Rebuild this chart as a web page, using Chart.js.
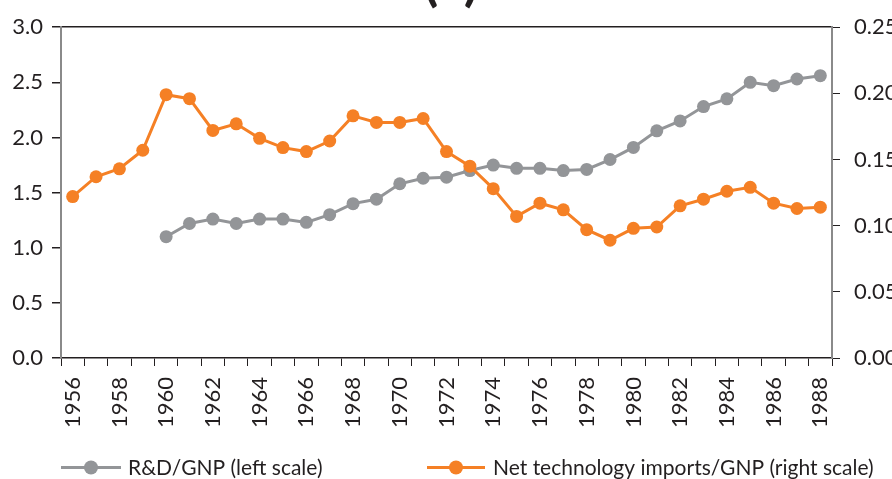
<!DOCTYPE html>
<html>
<head>
<meta charset="utf-8">
<script src="https://cdn.jsdelivr.net/npm/chart.js@4.4.0/dist/chart.umd.min.js"></script>
<style>
  html, body { margin: 0; padding: 0; background: #ffffff; }
  #wrap { position: relative; width: 892px; height: 479px; }
</style>
</head>
<body>
<div id="wrap"><canvas id="c" width="892" height="479"></canvas></div>
<script>
const titleText = "(a)";
const years = ["1956","1957","1958","1959","1960","1961","1962","1963","1964","1965","1966","1967","1968","1969","1970","1971","1972","1973","1974","1975","1976","1977","1978","1979","1980","1981","1982","1983","1984","1985","1986","1987","1988"];
const rdGnp = [null, null, null, null, 1.10, 1.22, 1.26, 1.22, 1.26, 1.26, 1.23, 1.30, 1.40, 1.44, 1.58, 1.63, 1.64, 1.70, 1.75, 1.72, 1.72, 1.70, 1.71, 1.80, 1.91, 2.06, 2.15, 2.28, 2.35, 2.50, 2.47, 2.53, 2.56];
const techImportsGnp = [0.122, 0.137, 0.143, 0.157, 0.199, 0.196, 0.172, 0.177, 0.166, 0.159, 0.156, 0.164, 0.183, 0.178, 0.178, 0.181, 0.156, 0.145, 0.128, 0.107, 0.117, 0.112, 0.097, 0.089, 0.098, 0.099, 0.115, 0.120, 0.126, 0.129, 0.117, 0.113, 0.114];
const leftTicks = [0, 0.5, 1.0, 1.5, 2.0, 2.5, 3.0];
const rightTicks = [0, 0.05, 0.10, 0.15, 0.20, 0.25];
const seriesLabels = ["R&D/GNP (left scale)", "Net technology imports/GNP (right scale)"];

const GRAY = "#939598";
const ORANGE = "#f58025";
const INK = "#231f20";
const FONT = "Lato, 'Open Sans', sans-serif";

const extrasPlugin = {
  id: "extras",
  afterDraw(chart) {
    const ctx = chart.ctx;
    ctx.save();
    // title (mostly above the visible area)
    ctx.fillStyle = INK;
    ctx.font = "bold 54px " + FONT;
    ctx.textAlign = "center";
    ctx.textBaseline = "alphabetic";
    ctx.fillText(titleText, 451, 0);
    // legend
    const items = [
      { x0: 61, x1: 121, tx: 128, color: GRAY, text: chart.data.datasets[1].label },
      { x0: 427, x1: 485, tx: 493, color: ORANGE, text: chart.data.datasets[0].label }
    ];
    const y = 467.5;
    ctx.font = "21px " + FONT;
    ctx.textAlign = "left";
    ctx.textBaseline = "middle";
    items.forEach(it => {
      ctx.strokeStyle = it.color;
      ctx.lineWidth = 3;
      ctx.beginPath();
      ctx.moveTo(it.x0, y);
      ctx.lineTo(it.x1, y);
      ctx.stroke();
      ctx.fillStyle = it.color;
      ctx.beginPath();
      ctx.arc((it.x0 + it.x1) / 2, y, 7, 0, Math.PI * 2);
      ctx.fill();
      ctx.fillStyle = INK;
      ctx.fillText(it.text, it.tx, y + 1);
    });
    ctx.restore();
  }
};

new Chart(document.getElementById("c"), {
  type: "line",
  data: {
    labels: years,
    datasets: [
      {
        label: seriesLabels[1],
        data: techImportsGnp,
        yAxisID: "y1",
        borderColor: ORANGE,
        backgroundColor: ORANGE,
        pointBackgroundColor: ORANGE,
        pointBorderColor: ORANGE,
        borderWidth: 3,
        pointRadius: 6.5,
        pointBorderWidth: 0,
        tension: 0,
        order: 0
      },
      {
        label: seriesLabels[0],
        data: rdGnp,
        yAxisID: "y",
        borderColor: GRAY,
        backgroundColor: GRAY,
        pointBackgroundColor: GRAY,
        pointBorderColor: GRAY,
        borderWidth: 3,
        pointRadius: 6.5,
        pointBorderWidth: 0,
        tension: 0,
        order: 1
      }
    ]
  },
  options: {
    responsive: false,
    animation: false,
    layout: { padding: { top: 18, bottom: 50, left: 0, right: 0 } },
    plugins: {
      legend: { display: false },
      title: { display: false },
      tooltip: { enabled: false }
    },
    scales: {
      x: {
        type: "category",
        offset: true,
        grid: {
          offset: true,
          drawOnChartArea: false,
          drawTicks: true,
          tickLength: 8,
          tickColor: INK,
          tickWidth: 1
        },
        border: { display: true, color: INK, width: 1.5 },
        ticks: {
          autoSkip: false,
          maxRotation: 90,
          minRotation: 90,
          padding: 11,
          color: INK,
          font: { family: FONT, size: 22 },
          callback: function(value, index) {
            const lab = this.getLabelForValue(value);
            return (parseInt(lab, 10) % 2 === 0) ? lab : "";
          }
        },
        afterFit(scale) { scale.height = 71; }
      },
      y: {
        position: "left",
        min: 0,
        max: 3,
        afterBuildTicks(scale) { scale.ticks = leftTicks.map(v => ({ value: v })); },
        grid: {
          drawOnChartArea: true,
          drawTicks: true,
          tickLength: 9,
          tickColor: INK,
          lineWidth: 1.5,
          color: ctx => (ctx.tick && ctx.tick.value === 3) ? INK : "rgba(0,0,0,0)"
        },
        border: { display: true, color: "#8a8a8a", width: 2 },
        ticks: {
          padding: 9,
          color: INK,
          font: { family: FONT, size: 22 },
          callback: v => Number(v).toFixed(1)
        },
        afterFit(scale) { scale.width = 61; }
      },
      y1: {
        position: "right",
        min: 0,
        max: 0.25,
        afterBuildTicks(scale) { scale.ticks = rightTicks.map(v => ({ value: v })); },
        grid: {
          drawOnChartArea: false,
          drawTicks: true,
          tickLength: 8,
          tickColor: INK
        },
        border: { display: true, color: "#8a8a8a", width: 2 },
        ticks: {
          padding: 14,
          color: INK,
          font: { family: FONT, size: 22 },
          callback: v => Number(v).toFixed(2)
        },
        afterFit(scale) { scale.width = 60; }
      }
    }
  },
  plugins: [extrasPlugin]
});
</script>
</body>
</html>
